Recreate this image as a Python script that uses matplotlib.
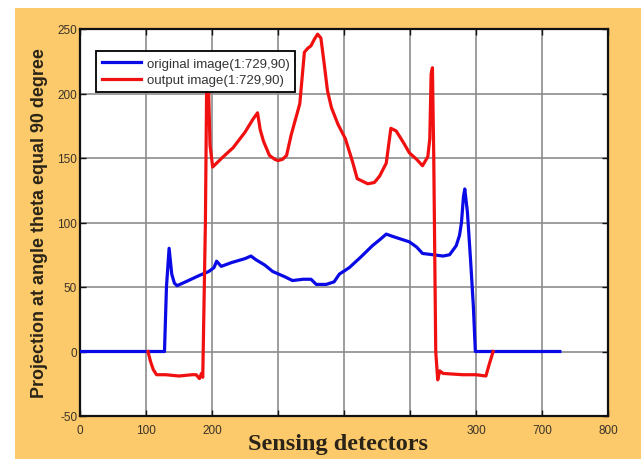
import matplotlib
matplotlib.use("Agg")
import matplotlib.pyplot as plt
from matplotlib.patches import Rectangle


# detector index vs projection value
original_x = [0, 128, 131, 135, 139, 143, 147, 160, 181, 195, 203, 207, 214, 230,
              250, 259, 267, 280, 292, 310, 322, 338, 350, 358, 373, 385, 393, 408,
              425, 443, 455, 464, 475, 499, 510, 519, 535, 550, 560, 570, 575, 578,
              581, 583, 587, 592, 596, 599, 727]
original_y = [0, 0, 50, 80, 60, 53, 51, 54, 59, 62, 65, 70, 66, 69,
              72, 74, 71, 67, 62, 58, 55, 56, 56, 52, 52, 54, 60, 65,
              73, 82, 87, 91, 89, 85, 81, 76, 75, 74, 75, 82, 90, 100,
              120, 126, 108, 69, 35, 0, 0]

output_x = [103, 107, 111, 116, 130, 150, 170, 176, 181, 184, 186, 190, 192, 195,
            197, 201, 205, 215, 232, 250, 262, 269, 273, 278, 287, 295, 300, 307,
            313, 320, 333, 340, 345, 350, 355, 360, 365, 370, 375, 381, 391, 402,
            413, 420, 436, 446, 454, 464, 471, 479, 490, 499, 510, 519, 527, 530,
            532, 534, 536, 539, 542, 545, 550, 580, 600, 615, 620, 626]
output_y = [0, -8, -14, -18, -18, -19, -18, -18, -21, -17, -20, 100, 212, 200,
            160, 143, 145, 150, 158, 170, 180, 185, 172, 163, 152, 149, 148, 149,
            152, 168, 192, 232, 235, 237, 242, 246, 243, 223, 202, 189, 176, 165,
            147, 134, 130, 131, 136, 146, 173, 171, 162, 154, 149, 144, 151, 165,
            215, 220, 150, 0, -22, -15, -17, -18, -18, -19, -10, 0]

x_ticks = [0, 100, 200, 300, 400, 500, 600, 700, 800]
x_tick_labels = ["0", "100", "200", "", "", "", "300", "700", "800"]
y_ticks = [-50, 0, 50, 100, 150, 200, 250]

BG = "#FCC96B"
plt.rcParams["axes.unicode_minus"] = False

fig = plt.figure(figsize=(6.41, 4.6), dpi=100, facecolor=BG)
fig.patches.append(Rectangle((0, 1 - 9 / 460), 1, 9 / 460, transform=fig.transFigure,
                             facecolor="white", edgecolor="none", zorder=0))
fig.patches.append(Rectangle((0, 0), 15 / 641, 1, transform=fig.transFigure,
                             facecolor="white", edgecolor="none", zorder=0))

ax = fig.add_axes([80 / 641, 1 - 417 / 460, 528 / 641, 387 / 460])
ax.set_facecolor("white")

ax.plot(original_x, original_y, color="#0A0AE6", lw=2.3, label="original image(1:729,90)", zorder=3)
ax.plot(output_x, output_y, color="#F01010", lw=2.3, label="output image(1:729,90)", zorder=4)

ax.set_xlim(0, 800)
ax.set_ylim(-50, 250)
ax.set_xticks(x_ticks)
ax.set_xticklabels(x_tick_labels)
ax.set_yticks(y_ticks)
ax.grid(True, color="#8c8c8c", lw=1.2, zorder=1)
ax.set_axisbelow(True)

for s in ax.spines.values():
    s.set_color("#111111")
    s.set_linewidth(1.6)

ax.tick_params(direction="in", top=True, right=True, length=4, width=1,
               colors="#111111", labelcolor="#3a3328", labelsize=8.5)
ax.tick_params(axis="x", pad=6)
ax.tick_params(axis="y", pad=2)
for lab in ax.get_xticklabels() + ax.get_yticklabels():
    lab.set_family("Liberation Sans")

ax.set_xlabel("Sensing detectors", family="Liberation Serif", fontweight="bold",
              fontsize=17.5, color="#2a2418")
ax.xaxis.set_label_coords(0.488, -0.044)
ax.xaxis.label.set_va("top")
ax.set_ylabel("Projection at angle theta equal 90 degree", family="Liberation Sans",
              fontweight="bold", fontsize=12.9, color="#2a2418")
ax.yaxis.set_label_coords(-0.061, 0.5)

leg = ax.legend(loc="upper left", bbox_to_anchor=(0.03, 0.942), fancybox=False,
                framealpha=1, edgecolor="black", prop={"family": "Liberation Sans", "size": 9.5},
                handlelength=3.0, handletextpad=0.4, borderpad=0.45, labelspacing=0.35,
                borderaxespad=0)
leg.get_frame().set_linewidth(1.3)
leg.set_zorder(10)
for t in leg.get_texts():
    t.set_color("#333333")

fig.savefig("out.png", dpi=100, facecolor=BG)
